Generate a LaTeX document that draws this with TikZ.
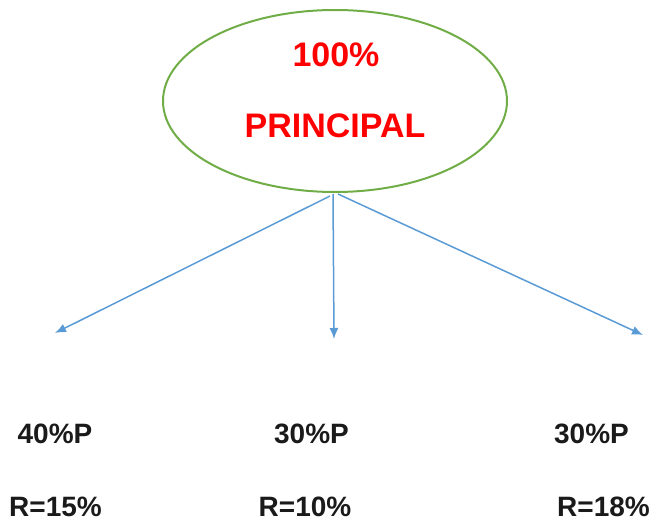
\documentclass[tikz,border=0pt]{standalone}
\usepackage{fontspec}
\setmainfont{Liberation Sans}
\usetikzlibrary{shapes.geometric,arrows.meta}
\definecolor{egreen}{HTML}{70AD47}
\definecolor{ablue}{HTML}{5B9BD5}
\definecolor{txt}{HTML}{1A1A1A}
\begin{document}
\begin{tikzpicture}[x=1pt,y=-1pt,
  oval/.style={draw=egreen,line width=2pt,ellipse,minimum width=344pt,minimum height=182pt,inner sep=0pt},
  toptext/.style={text=red,font=\fontsize{34}{36}\selectfont\bfseries,anchor=base,inner sep=0pt},
  lbl/.style={text=txt,font=\fontsize{28}{30}\selectfont\bfseries,anchor=base,inner sep=0pt},
  arr/.style={draw=ablue,line width=1.5pt,-{Latex[length=11pt,width=9pt]}}]
\useasboundingbox (0,0) rectangle (654,522);
\node[oval] (p) at (335,101) {};
\node[toptext] (pct) at (336,66) {100\%};
\node[toptext] (prin) at (335,137) {PRINCIPAL};
\coordinate (sl) at (330,196);
\coordinate (sc) at (333,194);
\coordinate (sr) at (338,194);
\coordinate (tl) at (55,333);
\coordinate (tc) at (334,339);
\coordinate (tr) at (643,335);
\draw[arr] (sl) -- (tl);
\draw[arr] (sc) -- (tc);
\draw[arr] (sr) -- (tr);
\node[lbl] (a1) at (55,443) {40\%P};
\node[lbl] (a2) at (311.5,443) {30\%P};
\node[lbl] (a3) at (591.5,443) {30\%P};
\node[lbl] (b1) at (55.5,516) {R=15\%};
\node[lbl] (b2) at (305,516) {R=10\%};
\node[lbl] (b3) at (603.5,516) {R=18\%};
\end{tikzpicture}
\end{document}
